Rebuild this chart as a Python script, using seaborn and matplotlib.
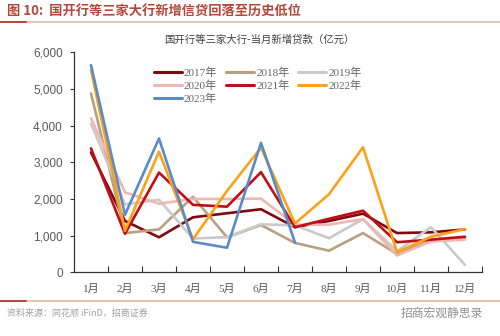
import numpy as np
import pandas as pd
import matplotlib
matplotlib.use("Agg")
import matplotlib.pyplot as plt
import seaborn as sns
from matplotlib.lines import Line2D
from matplotlib.ticker import FuncFormatter, FixedLocator

# ---- data: monthly new loans of the three policy banks (100 million yuan) ----
months = ["1月", "2月", "3月", "4月", "5月", "6月", "7月", "8月", "9月", "10月", "11月", "12月"]
years = ["2017年", "2018年", "2019年", "2020年", "2021年", "2022年", "2023年"]
v2017 = [3270, 1400, 955, 1500, 1610, 1720, 1230, 1400, 1600, 1070, 1090, 1170]
v2018 = [4880, 1070, 1170, 2060, 955, 1290, 800, 590, 1070, 500, 880, 930]
v2019 = [4050, 1850, 1980, 920, 960, 1310, 1280, 930, 1450, 580, 1230, 200]
v2020 = [4200, 2180, 1870, 2000, 2000, 2010, 1300, 1300, 1450, 460, 840, 890]
v2021 = [3380, 1050, 2720, 1840, 1790, 2730, 1230, 1460, 1680, 820, 890, 970]
v2022 = [5520, 1130, 3290, 900, 2220, 3400, 1330, 2130, 3410, 550, 970, 1180]
v2023 = [5650, 1570, 3650, 830, 670, 3530, 810]
series = [v2017, v2018, v2019, v2020, v2021, v2022, v2023]

colors = ["#7E0A12", "#B8A080", "#CACACA", "#EEB7B0", "#C10E16", "#FBA21A", "#5B8BC6"]
palette = dict(zip(years, colors))

rows = []
for y, vals in zip(years, series):
    for i, v in enumerate(vals):
        rows.append({"year": y, "pos": i, "value": v})
df = pd.DataFrame(rows)

sns.set_style("white")
plt.rcParams["font.family"] = ["Noto Sans CJK SC", "DejaVu Sans"]

fig = plt.figure(figsize=(5.0, 3.36), dpi=100)
ax = fig.add_axes([0.148, 0.1896, 0.816, 0.6547])

sns.lineplot(data=df, x="pos", y="value", hue="year", palette=palette,
             hue_order=years, estimator=None, sort=False, linewidth=1.9,
             ax=ax, legend=False)

ax.set_xlim(-0.5, 11.5)
ax.set_ylim(0, 6000)
ax.set_xlabel("")
ax.set_ylabel("")

# y axis
ax.yaxis.set_major_locator(FixedLocator([0, 1000, 2000, 3000, 4000, 5000, 6000]))
ax.yaxis.set_major_formatter(FuncFormatter(lambda v, p: f"{int(v):,}"))
ax.tick_params(axis="y", which="major", direction="out", length=3, width=0.8,
               color="#333333", labelsize=8.5, labelcolor="#595959", pad=5, left=True)
for lab in ax.get_yticklabels():
    lab.set_family(["Liberation Sans", "DejaVu Sans"])

# x axis: labels at centers, inward ticks at category boundaries
ax.set_xticks(range(12))
ax.set_xticklabels(months)
ax.tick_params(axis="x", which="major", length=0, labelsize=8, labelcolor="#595959", pad=8)
for lab in ax.get_xticklabels():
    lab.set_family(["Liberation Serif", "Noto Sans CJK SC"])
ax.xaxis.set_minor_locator(FixedLocator(np.arange(0.5, 11.6, 1.0)))
ax.tick_params(axis="x", which="minor", direction="in", length=4, width=0.8,
               color="#333333", bottom=True)

for s in ["top", "right"]:
    ax.spines[s].set_visible(False)
for s in ["left", "bottom"]:
    ax.spines[s].set_color("#333333")
    ax.spines[s].set_linewidth(0.9)

# legend laid out row by row (matplotlib fills columns first)
order = [0, 3, 6, 1, 4, 2, 5]
handles = [Line2D([0], [0], color=palette[years[i]], lw=2.2) for i in order]
labels = [years[i] for i in order]
leg = fig.legend(handles, labels, loc="upper left", bbox_to_anchor=(0.308, 0.80),
                 ncol=3, frameon=False, handlelength=2.5,
                 handletextpad=0.2, columnspacing=0.8, labelspacing=0.25,
                 borderpad=0, borderaxespad=0,
                 prop={"family": ["Liberation Serif", "Noto Sans CJK SC"], "size": 8})
for t in leg.get_texts():
    t.set_color("#666666")

# chart subtitle
fig.text(0.518, 1 - 40 / 336, "国开行等三家大行-当月新增贷款（亿元）", ha="center", va="center",
         fontsize=7.5, color="#404040")

# header
fig.text(7 / 500, 1 - 12 / 336, "图 10:  国开行等三家大行新增信贷回落至历史低位", ha="left", va="center",
         fontsize=9.5, fontweight="bold", color="#B4463A")
fig.add_artist(Line2D([0, 1], [1 - 21.5 / 336] * 2, color="#E2B7A8", lw=1.2,
                      transform=fig.transFigure))
fig.add_artist(Line2D([0, 26 / 500], [1 - 21.5 / 336] * 2, color="#B4463A", lw=1.4,
                      transform=fig.transFigure))

# footer
fig.add_artist(Line2D([0, 1], [1 - 301 / 336] * 2, color="#E2B7A8", lw=1.2,
                      transform=fig.transFigure))
fig.add_artist(Line2D([0, 26 / 500], [1 - 301 / 336] * 2, color="#B4463A", lw=1.4,
                      transform=fig.transFigure))
fig.text(7 / 500, 1 - 313 / 336, "资料来源：同花顺 iFinD，招商证券", ha="left", va="center",
         fontsize=6.5, color="#A0A0A0")
fig.text(483 / 500, 1 - 313 / 336, "招商宏观静思录", ha="right", va="center",
         fontsize=8.5, color="#909090")

fig.savefig("out.png", dpi=100)
